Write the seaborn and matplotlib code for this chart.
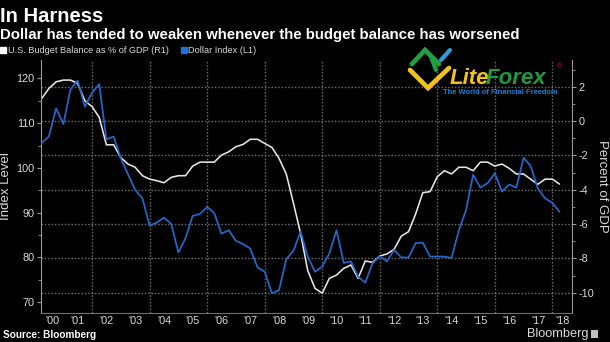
import numpy as np
import pandas as pd
import matplotlib
matplotlib.use("Agg")
import matplotlib.pyplot as plt
import seaborn as sns
from matplotlib.lines import Line2D
from matplotlib.patches import Rectangle

# ---------------- data (quarterly, Q1 2000 .. Q1 2018) ----------------
quarter_ends = pd.date_range("2000-03-31", "2018-03-31", freq="QE")

budget_balance_pct_gdp = [
    1.32, 1.90, 2.29, 2.39, 2.39, 2.20, 1.18, 0.84, 0.22, -1.38,
    -1.38, -2.13, -2.50, -2.69, -3.18, -3.38, -3.47, -3.59, -3.28, -3.18,
    -3.18, -2.62, -2.39, -2.39, -2.39, -1.98, -1.79, -1.49, -1.36, -1.06,
    -1.06, -1.30, -1.53, -2.17, -3.08, -4.79, -6.54, -8.71, -9.74, -10.03,
    -9.16, -8.97, -8.58, -8.38, -9.16, -8.15, -8.23, -7.86, -7.74, -7.47,
    -6.70, -6.44, -5.41, -4.17, -4.11, -3.24, -2.89, -3.08, -2.69, -2.69,
    -2.89, -2.39, -2.39, -2.62, -2.50, -2.75, -3.08, -3.08, -3.39, -3.68,
    -3.38, -3.38, -3.67,
]

dollar_index = [
    105.6, 107.0, 113.3, 109.8, 117.5, 119.5, 113.7, 116.8, 118.7, 106.4,
    107.0, 102.1, 98.6, 95.1, 93.2, 87.1, 87.8, 88.9, 87.5, 81.1,
    84.3, 89.3, 89.7, 91.3, 89.9, 85.3, 86.1, 83.7, 83.0, 82.0,
    77.8, 76.8, 72.0, 72.7, 79.6, 81.5, 85.8, 80.2, 76.8, 78.0,
    80.9, 86.1, 78.8, 79.1, 75.7, 74.4, 78.7, 80.3, 79.1, 81.7,
    80.0, 80.0, 83.2, 83.3, 80.2, 80.2, 80.2, 79.9, 86.0, 90.6,
    98.5, 95.6, 96.6, 98.8, 94.7, 96.3, 95.6, 102.3, 100.4, 95.4,
    93.2, 92.2, 90.2,
]

year_labels = ["'00", "'01", "'02", "'03", "'04", "'05", "'06", "'07", "'08", "'09",
               "'10", "'11", "'12", "'13", "'14", "'15", "'16", "'17", "'18"]
left_ticks = [70, 80, 90, 100, 110, 120]
right_ticks = [-10, -8, -6, -4, -2, 0, 2]

title = "In Harness"
subtitle = "Dollar has tended to weaken whenever the budget balance has worsened"
legend_labels = ["U.S. Budget Balance as % of GDP (R1)", "Dollar Index (L1)"]

# ---------------- style ----------------
BG = "#000000"
WHITE_LINE = "#e6e6e6"
BLUE_LINE = "#2468cc"
TXT = "#d9d9d9"
GRID = "#6a6a6a"
AXC = "#9a9a9a"
DOT = (0, (1.1, 1.3))

sns.set_theme(style="dark")
plt.rcParams["font.family"] = ["Liberation Sans", "DejaVu Sans"]
plt.rcParams["axes.facecolor"] = BG
plt.rcParams["figure.facecolor"] = BG

dec_year = quarter_ends.year + (quarter_ends.dayofyear - 1) / np.where(quarter_ends.is_leap_year, 366, 365)
df = pd.DataFrame({"t": dec_year, "budget": budget_balance_pct_gdp, "dollar": dollar_index})

fig = plt.figure(figsize=(6.10, 3.42), dpi=100)
fig.patch.set_facecolor(BG)
ax = fig.add_axes([41 / 610, 1 - 313 / 342, (572 - 41) / 610, (313 - 60) / 342])
ax2 = ax.twinx()

# ax2 (right axis, budget) drawn underneath, ax (dollar) on top
ax2.set_zorder(1)
ax.set_zorder(2)
ax.patch.set_visible(False)
ax2.patch.set_visible(True)
ax2.patch.set_facecolor(BG)

XMIN, XMAX = 2000.22, 2018.68

sns.lineplot(data=df, x="t", y="budget", ax=ax2, color=WHITE_LINE, linewidth=1.15, zorder=3)
sns.lineplot(data=df, x="t", y="dollar", ax=ax, color=BLUE_LINE, linewidth=1.25, zorder=3)

ax.set_xlim(XMIN, XMAX)
ax.set_ylim(67.6, 124.1)
ax2.set_ylim(-11.18, 3.56)

# grid: horizontal at right ticks, vertical every two years
ax2.set_yticks(right_ticks)
ax2.set_yticks([v + 1 for v in right_ticks[:-1]] + [3], minor=True)
ax.grid(False)
ax2.grid(False)
for v in right_ticks:
    ax2.axhline(v, color=GRID, linestyle=DOT, linewidth=1.0, zorder=0.5)
for yr in range(2002, 2019, 2):
    ax2.axvline(yr, color=GRID, linestyle=DOT, linewidth=1.0, zorder=0.5)

# x ticks: separators at year boundaries, labels centred in each year
ax.set_xticks(list(range(2001, 2019)))
ax.set_xticklabels([])
centers = []
for i in range(len(year_labels)):
    y0 = max(2000 + i, XMIN)
    y1 = min(2001 + i, XMAX)
    centers.append((y0 + y1) / 2)
ax.set_xticks(centers, minor=True)
ax.set_xticklabels(year_labels, minor=True)
ax.tick_params(axis="x", which="major", length=10, width=0.6, color="#6e6e6e", direction="out")
ax.tick_params(axis="x", which="minor", length=0, pad=2.5, labelsize=7.8, labelcolor=TXT)

# left y
ax.set_yticks(left_ticks)
ax.set_yticks([75, 85, 95, 105, 115], minor=True)
ax.tick_params(axis="y", which="major", length=3, width=0.8, color=AXC, pad=1.5,
               labelsize=7.8, labelcolor=TXT, left=True)
ax.tick_params(axis="y", which="minor", length=2, width=0.6, color=AXC, left=True)
ax.set_yticklabels([str(v) for v in left_ticks])

# right y
ax2.tick_params(axis="y", which="major", length=3, width=0.8, color=AXC, pad=1.5,
                labelsize=7.8, labelcolor=TXT, right=True)
ax2.tick_params(axis="y", which="minor", length=2, width=0.6, color=AXC, right=True)
ax2.set_yticklabels([("-" + str(abs(v))) if v < 0 else str(v) for v in right_ticks])

ax.set_xlabel("")
ax.set_ylabel("Index Level", color=TXT, fontsize=9.5, labelpad=3)
ax2.set_ylabel("Percent of GDP", color=TXT, fontsize=9.5, rotation=270, labelpad=10)

for a in (ax, ax2):
    for s in a.spines.values():
        s.set_visible(False)
ax.spines["left"].set_visible(True)
ax.spines["left"].set_color(AXC)
ax.spines["left"].set_linewidth(0.8)
ax.spines["bottom"].set_visible(True)
ax.spines["bottom"].set_color("#6e6e6e")
ax.spines["bottom"].set_linewidth(0.8)
ax2.spines["right"].set_visible(True)
ax2.spines["right"].set_color(AXC)
ax2.spines["right"].set_linewidth(0.8)

# ---------------- titles & legend ----------------
fig.text(0.0, 1 - 21.5 / 342, title, color="white", fontsize=14.5, fontweight="bold",
         ha="left", va="baseline")
fig.text(0.0, 1 - 39 / 342, subtitle, color="white", fontsize=10.8, fontweight="bold",
         ha="left", va="baseline")

handles = [Line2D([], [], marker="s", linestyle="none", markersize=5, color="white"),
           Line2D([], [], marker="s", linestyle="none", markersize=5, color="#1f6fe0")]
fig.legend(handles, legend_labels, loc="center left", bbox_to_anchor=(0.0, 1 - 50.5 / 342),
           ncol=2, frameon=False, fontsize=6.6, labelcolor=TXT, handlelength=0.7,
           handletextpad=0.15, columnspacing=1.3, borderaxespad=0, borderpad=0)

# footer
fig.text(3 / 610, 1 - 335.5 / 342, "Source: Bloomberg", color="white", fontsize=7.2,
         fontweight="bold", ha="left", va="center")
fig.text(588 / 610, 1 - 334 / 342, "Bloomberg", color=TXT, fontsize=9.2, ha="right", va="center")
fig.add_artist(Rectangle((591 / 610, 1 - 338 / 342), 7 / 610, 8 / 342, transform=fig.transFigure,
                         facecolor="#bfbfbf", edgecolor="none"))

# LiteForex watermark
def fx(px):
    return px / 610

def fy(py):
    return 1 - py / 342

fig.add_artist(Line2D([fx(410), fx(428), fx(449)], [fy(70), fy(88), fy(68)],
                      transform=fig.transFigure, color="#f2c21b", linewidth=3.4,
                      solid_capstyle="round", solid_joinstyle="miter", zorder=5))
fig.add_artist(Line2D([fx(412), fx(425), fx(439)], [fy(64), fy(50), fy(64)],
                      transform=fig.transFigure, color="#20a040", linewidth=3.4,
                      solid_capstyle="round", solid_joinstyle="miter", zorder=5))
fig.add_artist(Line2D([fx(431), fx(436)], [fy(57), fy(70)],
                      transform=fig.transFigure, color="#20a040", linewidth=3.0,
                      solid_capstyle="round", zorder=5))
fig.add_artist(Line2D([fx(441), fx(450)], [fy(60), fy(50)],
                      transform=fig.transFigure, color="#2b9be0", linewidth=3.0,
                      solid_capstyle="round", zorder=5))
fig.text(fx(450), fy(78), "Lite", color="#f2c21b", fontsize=16, fontweight="bold",
         fontstyle="italic", ha="left", va="center", zorder=5)
fig.text(fx(486), fy(78), "Forex", color="#1f9a3c", fontsize=16, fontweight="bold",
         fontstyle="italic", ha="left", va="center", zorder=5)
fig.text(fx(557), fy(67), "®", color="#c0201e", fontsize=5, ha="left", va="center", zorder=5)
fig.text(fx(500), fy(92.5), "The World of Financial Freedom", color="#1a80d8", fontsize=5.4,
         fontweight="bold", ha="center", va="center", zorder=5)

fig.savefig("out.png", dpi=100, facecolor=BG)
